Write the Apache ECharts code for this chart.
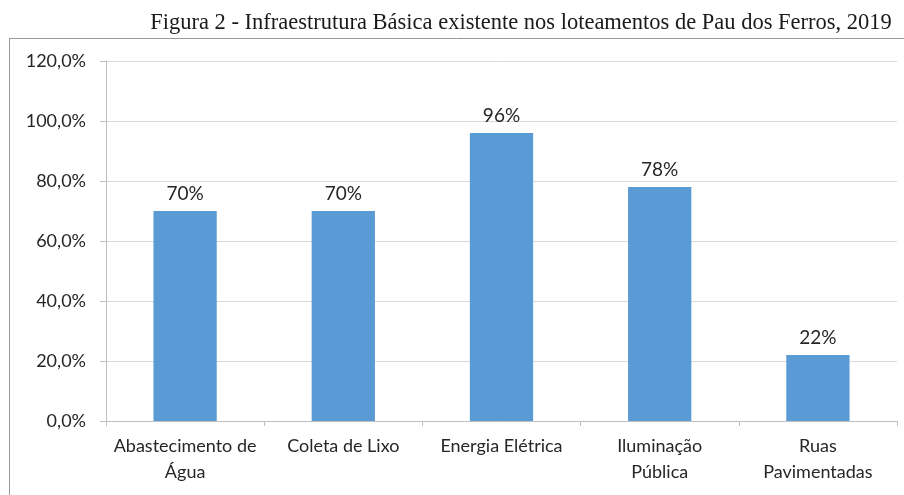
<!DOCTYPE html>
<html>
<head>
<meta charset="utf-8">
<script src="https://cdn.jsdelivr.net/npm/echarts@6/dist/echarts.min.js"></script>
<style>
  html, body { margin: 0; padding: 0; background: #fff; }
  #chart { width: 904px; height: 495px; }
</style>
</head>
<body>
<div id="chart"></div>
<script>
const categories = ['Abastecimento de\nÁgua', 'Coleta de Lixo', 'Energia Elétrica', 'Iluminação\nPública', 'Ruas\nPavimentadas'];
const values = [70, 70, 96, 78, 22];
const barLabels = ['70%', '70%', '96%', '78%', '22%'];

const chart = echarts.init(document.getElementById('chart'));

const option = {
  animation: false,
  title: {
    text: 'Figura 2 - Infraestrutura Básica existente nos loteamentos de Pau dos Ferros, 2019',
    left: 516,
    top: 7,
    textAlign: 'center',
    textStyle: {
      fontFamily: 'Liberation Serif',
      fontWeight: 'normal',
      fontSize: 22.5,
      color: '#1a1a1a'
    }
  },
  graphic: [
    { type: 'line', shape: { x1: 9, y1: 38.5, x2: 904, y2: 38.5 }, style: { stroke: '#9a9a9a', lineWidth: 1 } },
    { type: 'line', shape: { x1: 9.5, y1: 38, x2: 9.5, y2: 495 }, style: { stroke: '#9a9a9a', lineWidth: 1 } }
  ],
  grid: { left: 106, right: 7, top: 61, bottom: 74 },
  xAxis: {
    type: 'category',
    data: categories,
    axisLine: { lineStyle: { color: '#bfbfbf' } },
    axisTick: { show: true, length: 5, lineStyle: { color: '#bfbfbf' } },
    axisLabel: {
      color: '#262626',
      fontFamily: 'Lato',
      fontSize: 18,
      lineHeight: 26,
      margin: 12,
      interval: 0
    }
  },
  yAxis: {
    type: 'value',
    min: 0,
    max: 120,
    interval: 20,
    axisLine: { show: true, lineStyle: { color: '#bfbfbf' } },
    axisTick: { show: true, length: 6, lineStyle: { color: '#bfbfbf' } },
    splitLine: { lineStyle: { color: '#d9d9d9' } },
    axisLabel: {
      color: '#262626',
      fontFamily: 'Lato',
      fontSize: 18,
      margin: 20,
      formatter: v => v.toFixed(1).replace('.', ',') + '%'
    }
  },
  series: [{
    type: 'bar',
    data: values,
    barWidth: '40%',
    itemStyle: { color: '#5b9bd5' },
    label: {
      show: true,
      position: 'top',
      distance: 8,
      color: '#262626',
      fontFamily: 'Lato',
      fontSize: 19,
      formatter: p => barLabels[p.dataIndex]
    }
  }]
};

chart.setOption(option);
</script>
</body>
</html>
